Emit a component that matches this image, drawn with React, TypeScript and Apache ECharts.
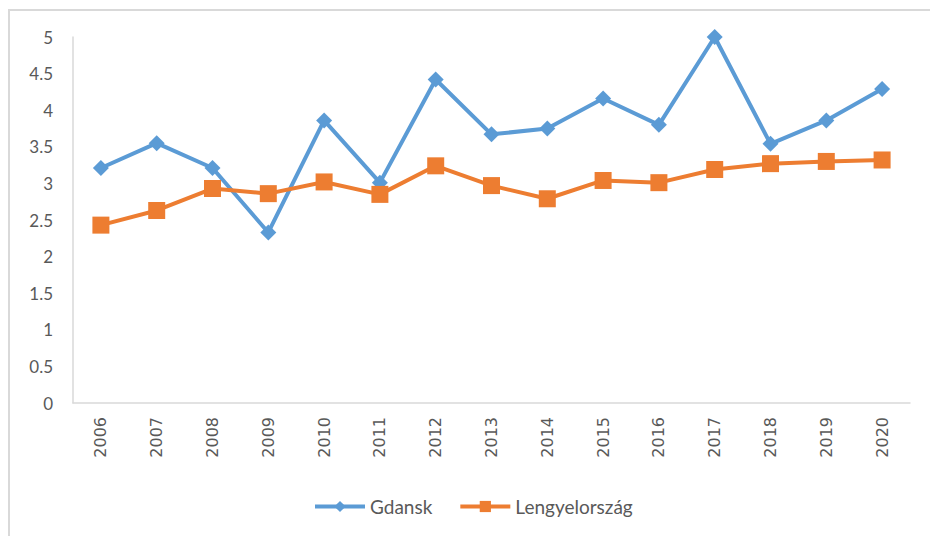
import React, { useEffect, useRef } from "react";
import * as echarts from "echarts";

const years = ["2006", "2007", "2008", "2009", "2010", "2011", "2012", "2013", "2014", "2015", "2016", "2017", "2018", "2019", "2020"];
const gdansk = [3.21, 3.55, 3.21, 2.33, 3.86, 3.01, 4.42, 3.67, 3.75, 4.16, 3.8, 5.0, 3.54, 3.86, 4.29];
const lengyelorszag = [2.43, 2.63, 2.93, 2.86, 3.02, 2.85, 3.24, 2.97, 2.79, 3.04, 3.01, 3.19, 3.27, 3.3, 3.32];
const seriesNames = ["Gdansk", "Lengyelország"];

const FONT = "Lato, 'Open Sans', sans-serif";

export default function App() {
  const ref = useRef<HTMLDivElement>(null);
  useEffect(() => {
    if (!ref.current) return;
    const chart = echarts.init(ref.current, null, { renderer: "svg" });
    chart.setOption({
      animation: false,
      backgroundColor: "#ffffff",
      graphic: [
        {
          type: "rect",
          shape: { x: 9, y: 10, width: 940, height: 560 },
          style: { fill: "none", stroke: "#d9d9d9", lineWidth: 2 },
          silent: true,
          z: -1,
        },
      ],
      grid: { left: 73, right: 20, top: 37, bottom: 133, containLabel: false },
      legend: {
        data: seriesNames,
        top: 492,
        left: 308,
        itemWidth: 50,
        itemHeight: 14,
        itemGap: 26,
        lineStyle: { width: 4 },
        textStyle: { color: "#595959", fontSize: 19, fontFamily: FONT },
      },
      xAxis: {
        type: "category",
        data: years,
        boundaryGap: true,
        axisLine: { show: true, lineStyle: { color: "#d9d9d9", width: 1.5 } },
        axisTick: { show: false },
        axisLabel: {
          rotate: 90,
          color: "#595959",
          fontSize: 16,
          fontFamily: "'DejaVu Sans', sans-serif",
          margin: 14,
        },
      },
      yAxis: {
        type: "value",
        min: 0,
        max: 5,
        interval: 0.5,
        axisLine: { show: true, lineStyle: { color: "#d9d9d9", width: 1.5 } },
        axisTick: { show: false },
        splitLine: { show: false },
        axisLabel: { color: "#595959", fontSize: 17, fontFamily: FONT, margin: 20 },
      },
      series: [
        {
          name: seriesNames[0],
          type: "line",
          data: gdansk,
          symbol: "diamond",
          symbolSize: 16,
          itemStyle: { color: "#5B9BD5" },
          lineStyle: { color: "#5B9BD5", width: 4 },
        },
        {
          name: seriesNames[1],
          type: "line",
          data: lengyelorszag,
          symbol: "rect",
          symbolSize: 17,
          itemStyle: { color: "#ED7D31" },
          lineStyle: { color: "#ED7D31", width: 4 },
        },
      ],
    });
    return () => chart.dispose();
  }, []);
  return (
    <div
      ref={ref}
      style={{ position: "fixed", left: 0, top: 0, width: 930, height: 536 }}
    />
  );
}
